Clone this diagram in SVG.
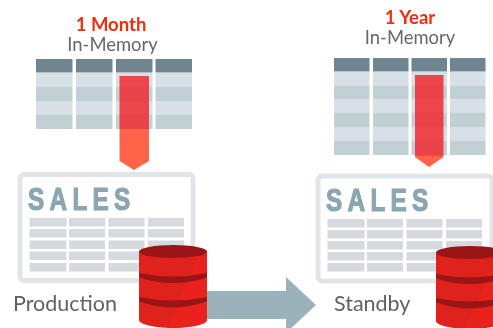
<svg xmlns="http://www.w3.org/2000/svg" width="493" height="328" viewBox="0 0 493 328">
<style>
text{font-family:Lato,"Liberation Sans",sans-serif}
.t1{font-size:18.5px;font-weight:700;fill:#ee2f10;text-anchor:middle}
.t2{font-size:18.4px;fill:#646769;text-anchor:middle}
.t3{font-size:21.5px;fill:#5f6264}
.hd{fill:#6f858f}
.ra{fill:#d7e0e6}
.rb{fill:#c0d0d3}
.card{fill:#fff;stroke:#e2e5e7;stroke-width:5}
.sales{font-family:"Liberation Sans",sans-serif;font-size:32px;font-weight:700;fill:#8ba6b1;stroke:#8ba6b1;stroke-width:1.2px;letter-spacing:7px}
.cell{fill:#d6dade}
.bartop{fill:#ef2f35;fill-opacity:.88}
.bartip{fill:#ff6349}
.dbside{fill:#e0201f}
.dbtop{fill:#9a1519}
.dbshine{fill:#ea211d}
</style>
<defs>
<filter id="soft" x="-5%" y="-5%" width="110%" height="110%"><feGaussianBlur stdDeviation="0.6"/></filter>
<g id="cells">
<rect class="cell" x="0" y="0" width="37" height="8.5"/><rect class="cell" x="39.500" y="0" width="36" height="8.5"/><rect class="cell" x="79" y="0" width="36" height="8.5"/><rect class="cell" x="118.500" y="0" width="36" height="8.5"/>
</g>
<g id="db">
<path class="dbside" d="M0 6.500V75C0 79 15 83 34 83S68 79 68 75V6.500Z"/>
<path class="dbshine" d="M68 12V75C68 79 50 83 28 83L60 12Z"/>
<path class="dbtop" d="M0 28Q34 35 68 28V32C58 36 46 38 34 38S10 36 0 32Z"/>
<path class="dbtop" d="M0 52Q34 59 68 52V56C58 60 46 62.500 34 62.500S10 60 0 56Z"/>
<ellipse class="dbtop" cx="34" cy="6.500" rx="34" ry="6.500"/>
</g>
</defs>
<g filter="url(#soft)">
<g id="connectors">
<path d="M207 291H286V277L316 305L286 333V319H207Z" fill="#9cb2ba"/>
</g>
<g id="memory-month">
<text class="t1" x="111" y="31">1 Month</text>
<text class="t2" x="112.500" y="51">In-Memory</text>
<rect class="hd" x="36" y="59" width="36.500" height="13.500"/><rect class="hd" x="76" y="59" width="36.500" height="13.500"/><rect class="hd" x="116" y="59" width="36.500" height="13.500"/><rect class="hd" x="155.500" y="59" width="36.500" height="13.500"/>
<path class="ra" d="M36 73h36.500v14H36zM76 73h36.500v14H76zM116 73h36.500v14H116zM155.500 73h36.500v14h-36.500zM36 101h36.500v14H36zM76 101h36.500v14H76zM116 101h36.500v14H116zM155.500 101h36.500v14h-36.500z"/>
<path class="rb" d="M36 87h36.500v14H36zM76 87h36.500v14H76zM116 87h36.500v14H116zM155.500 87h36.500v14h-36.500zM36 115h36.500v14H36zM76 115h36.500v14H76zM116 115h36.500v14H116zM155.500 115h36.500v14h-36.500z"/>
<path class="bartip" d="M119.500 129H149V161L134 170L119.500 161Z"/>
<rect class="bartop" x="119.500" y="76" width="29.500" height="53"/>
</g>
<g id="memory-year">
<text class="t1" x="410" y="24">1 Year</text>
<text class="t2" x="410" y="44">In-Memory</text>
<rect class="hd" x="334" y="58" width="35.500" height="13.500"/><rect class="hd" x="373" y="58" width="35.500" height="13.500"/><rect class="hd" x="411.500" y="58" width="35.500" height="13.500"/><rect class="hd" x="450" y="58" width="35.500" height="13.500"/>
<path class="ra" d="M334 72h35.500v13.500H334zM373 72h35.500v13.500H373zM411.500 72h35.500v13.500h-35.500zM450 72h35.500v13.500H450zM334 99h35.500v13.500H334zM373 99h35.500v13.500H373zM411.500 99h35.500v13.500h-35.500zM450 99h35.500v13.500H450zM334 127h35.500v13.500H334zM373 127h35.500v13.500H373zM411.500 127h35.500v13.500h-35.500zM450 127h35.500v13.500H450z"/>
<path class="rb" d="M334 85.500h35.500V99H334zM373 85.500h35.500V99H373zM411.500 85.500h35.500V99h-35.500zM450 85.500h35.500V99H450zM334 112.500h35.500V127H334zM373 112.500h35.500V127H373zM411.500 112.500h35.500V127h-35.500zM450 112.500h35.500V127H450zM334 140.500h35.500V155H334zM373 140.500h35.500V155H373zM411.500 140.500h35.500V155h-35.500zM450 140.500h35.500V155H450z"/>
<path class="bartip" d="M415 155H443.500V157L429 167L415 157Z"/>
<rect class="bartop" x="415" y="75" width="28.500" height="80.500"/>
</g>
<g id="sales-production">
<rect class="card" x="20" y="174.500" width="173" height="106" rx="4"/>
<text class="sales" transform="translate(28,210) scale(.76,1)">SALES</text>
<use href="#cells" x="29.500" y="218"/><use href="#cells" x="29.500" y="229"/><use href="#cells" x="29.500" y="240.500"/><use href="#cells" x="29.500" y="251.500"/><use href="#cells" x="29.500" y="263"/>
<text class="t3" x="13" y="311">Production</text>
</g>
<g id="sales-standby">
<rect class="card" x="318" y="176" width="174" height="105" rx="4"/>
<text class="sales" transform="translate(326,211) scale(.76,1)">SALES</text>
<use href="#cells" x="327.500" y="219"/><use href="#cells" x="327.500" y="230"/><use href="#cells" x="327.500" y="241"/><use href="#cells" x="327.500" y="252"/><use href="#cells" x="327.500" y="263"/>
<text class="t3" x="334" y="311">Standby</text>
</g>
<g id="db-production"><use href="#db" x="139" y="245"/></g>
<g id="db-standby"><use href="#db" x="436" y="246"/></g>
</g>
</svg>
